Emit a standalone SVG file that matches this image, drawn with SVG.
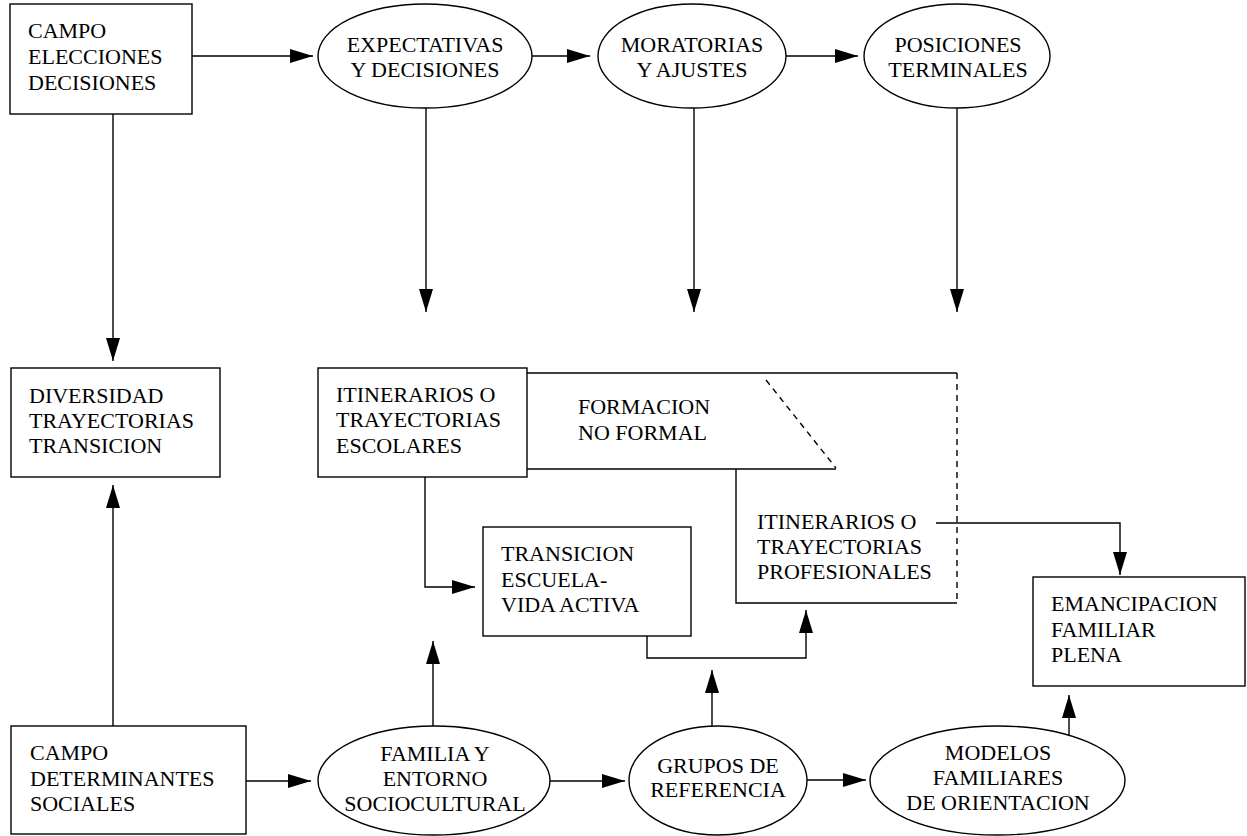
<svg xmlns="http://www.w3.org/2000/svg" width="1247" height="836" viewBox="0 0 1247 836">
<style>
.n{fill:#fff;stroke:#000;stroke-width:1.4}
.t{font-family:"Liberation Serif","Times New Roman",serif;font-size:22px;fill:#000}
.c{text-anchor:middle}
.l{fill:none;stroke:#000;stroke-width:1.4}
.d{fill:none;stroke:#000;stroke-width:1.4;stroke-dasharray:6 5}
</style>
<defs>
<marker id="ah" markerUnits="userSpaceOnUse" markerWidth="24" markerHeight="16" viewBox="0 0 24 16" refX="23" refY="8" orient="auto">
<path d="M0,1 L23,8 L0,15 Z" fill="#000"/>
</marker>
</defs>
<rect width="1247" height="836" fill="#fff"/>

<g id="connectors">
<line class="l" x1="192" y1="56" x2="313" y2="56" marker-end="url(#ah)"/>
<line class="l" x1="532" y1="56" x2="590" y2="56" marker-end="url(#ah)"/>
<line class="l" x1="786" y1="56" x2="858" y2="56" marker-end="url(#ah)"/>
<line class="l" x1="426" y1="108" x2="426" y2="312" marker-end="url(#ah)"/>
<line class="l" x1="694" y1="108" x2="694" y2="312" marker-end="url(#ah)"/>
<line class="l" x1="957" y1="108" x2="957" y2="312" marker-end="url(#ah)"/>
<line class="l" x1="113" y1="114" x2="113" y2="361" marker-end="url(#ah)"/>
<line class="l" x1="113" y1="726" x2="113" y2="485" marker-end="url(#ah)"/>
<polyline class="l" points="425,477 425,587 475,587" marker-end="url(#ah)"/>
<polyline class="l" points="647,636 647,658 806,658 806,610" marker-end="url(#ah)"/>
<polyline class="l" points="936,523 1120,523 1120,575" marker-end="url(#ah)"/>
<line class="l" x1="433" y1="726" x2="433" y2="641" marker-end="url(#ah)"/>
<line class="l" x1="712" y1="726" x2="712" y2="670" marker-end="url(#ah)"/>
<line class="l" x1="1069" y1="735" x2="1069" y2="695" marker-end="url(#ah)"/>
<line class="l" x1="246" y1="781" x2="311" y2="781" marker-end="url(#ah)"/>
<line class="l" x1="550" y1="781" x2="625" y2="781" marker-end="url(#ah)"/>
<line class="l" x1="807" y1="780" x2="866" y2="780" marker-end="url(#ah)"/>
</g>

<g id="campo-elecciones">
<rect class="n" x="10" y="4" width="182" height="110"/>
<text class="t" x="28" y="38">CAMPO</text>
<text class="t" x="28" y="64">ELECCIONES</text>
<text class="t" x="28" y="90">DECISIONES</text>
</g>

<g id="expectativas">
<ellipse class="n" cx="425" cy="56" rx="107" ry="52"/>
<text class="t c" x="425" y="52">EXPECTATIVAS</text>
<text class="t c" x="425" y="77">Y DECISIONES</text>
</g>

<g id="moratorias">
<ellipse class="n" cx="692" cy="56" rx="94" ry="52"/>
<text class="t c" x="692" y="52">MORATORIAS</text>
<text class="t c" x="692" y="77">Y AJUSTES</text>
</g>

<g id="posiciones">
<ellipse class="n" cx="957" cy="56" rx="93" ry="52"/>
<text class="t c" x="958" y="52">POSICIONES</text>
<text class="t c" x="958" y="77">TERMINALES</text>
</g>

<g id="diversidad">
<rect class="n" x="11" y="368" width="209" height="109"/>
<text class="t" x="29" y="403">DIVERSIDAD</text>
<text class="t" x="29" y="428">TRAYECTORIAS</text>
<text class="t" x="29" y="453">TRANSICION</text>
</g>

<g id="formacion-no-formal">
<polyline class="l" points="527,373 957,373"/>
<polyline class="l" points="527,469 836,469"/>
<line class="d" x1="766" y1="380" x2="836" y2="468"/>
<text class="t" x="578" y="414">FORMACION</text>
<text class="t" x="578" y="440">NO FORMAL</text>
</g>

<g id="itinerarios-profesionales">
<polyline class="l" points="736,469 736,603 957,603"/>
<line class="d" x1="957" y1="373" x2="957" y2="603"/>
<text class="t" x="757" y="529">ITINERARIOS O</text>
<text class="t" x="757" y="554">TRAYECTORIAS</text>
<text class="t" x="757" y="579">PROFESIONALES</text>
</g>

<g id="itinerarios-escolares">
<rect class="n" x="318" y="368" width="209" height="109"/>
<text class="t" x="336" y="402">ITINERARIOS O</text>
<text class="t" x="336" y="427">TRAYECTORIAS</text>
<text class="t" x="336" y="453">ESCOLARES</text>
</g>

<g id="transicion">
<rect class="n" x="483" y="527" width="208" height="109"/>
<text class="t" x="501" y="561">TRANSICION</text>
<text class="t" x="501" y="587">ESCUELA-</text>
<text class="t" x="501" y="612">VIDA ACTIVA</text>
</g>

<g id="emancipacion">
<rect class="n" x="1033" y="577" width="212" height="109"/>
<text class="t" x="1051" y="611">EMANCIPACION</text>
<text class="t" x="1051" y="637">FAMILIAR</text>
<text class="t" x="1051" y="662">PLENA</text>
</g>

<g id="campo-determinantes">
<rect class="n" x="11" y="726" width="235" height="108"/>
<text class="t" x="30" y="760">CAMPO</text>
<text class="t" x="30" y="786">DETERMINANTES</text>
<text class="t" x="30" y="811">SOCIALES</text>
</g>

<g id="familia">
<ellipse class="n" cx="434" cy="780.5" rx="116" ry="54.5"/>
<text class="t c" x="435" y="761">FAMILIA Y</text>
<text class="t c" x="435" y="786">ENTORNO</text>
<text class="t c" x="435" y="811">SOCIOCULTURAL</text>
</g>

<g id="grupos">
<ellipse class="n" cx="718" cy="780.5" rx="89" ry="54.5"/>
<text class="t c" x="718" y="773">GRUPOS DE</text>
<text class="t c" x="718" y="797">REFERENCIA</text>
</g>

<g id="modelos">
<ellipse class="n" cx="997.5" cy="780.5" rx="127.5" ry="54.5"/>
<text class="t c" x="998" y="760">MODELOS</text>
<text class="t c" x="998" y="785">FAMILIARES</text>
<text class="t c" x="998" y="810">DE ORIENTACION</text>
</g>
</svg>
